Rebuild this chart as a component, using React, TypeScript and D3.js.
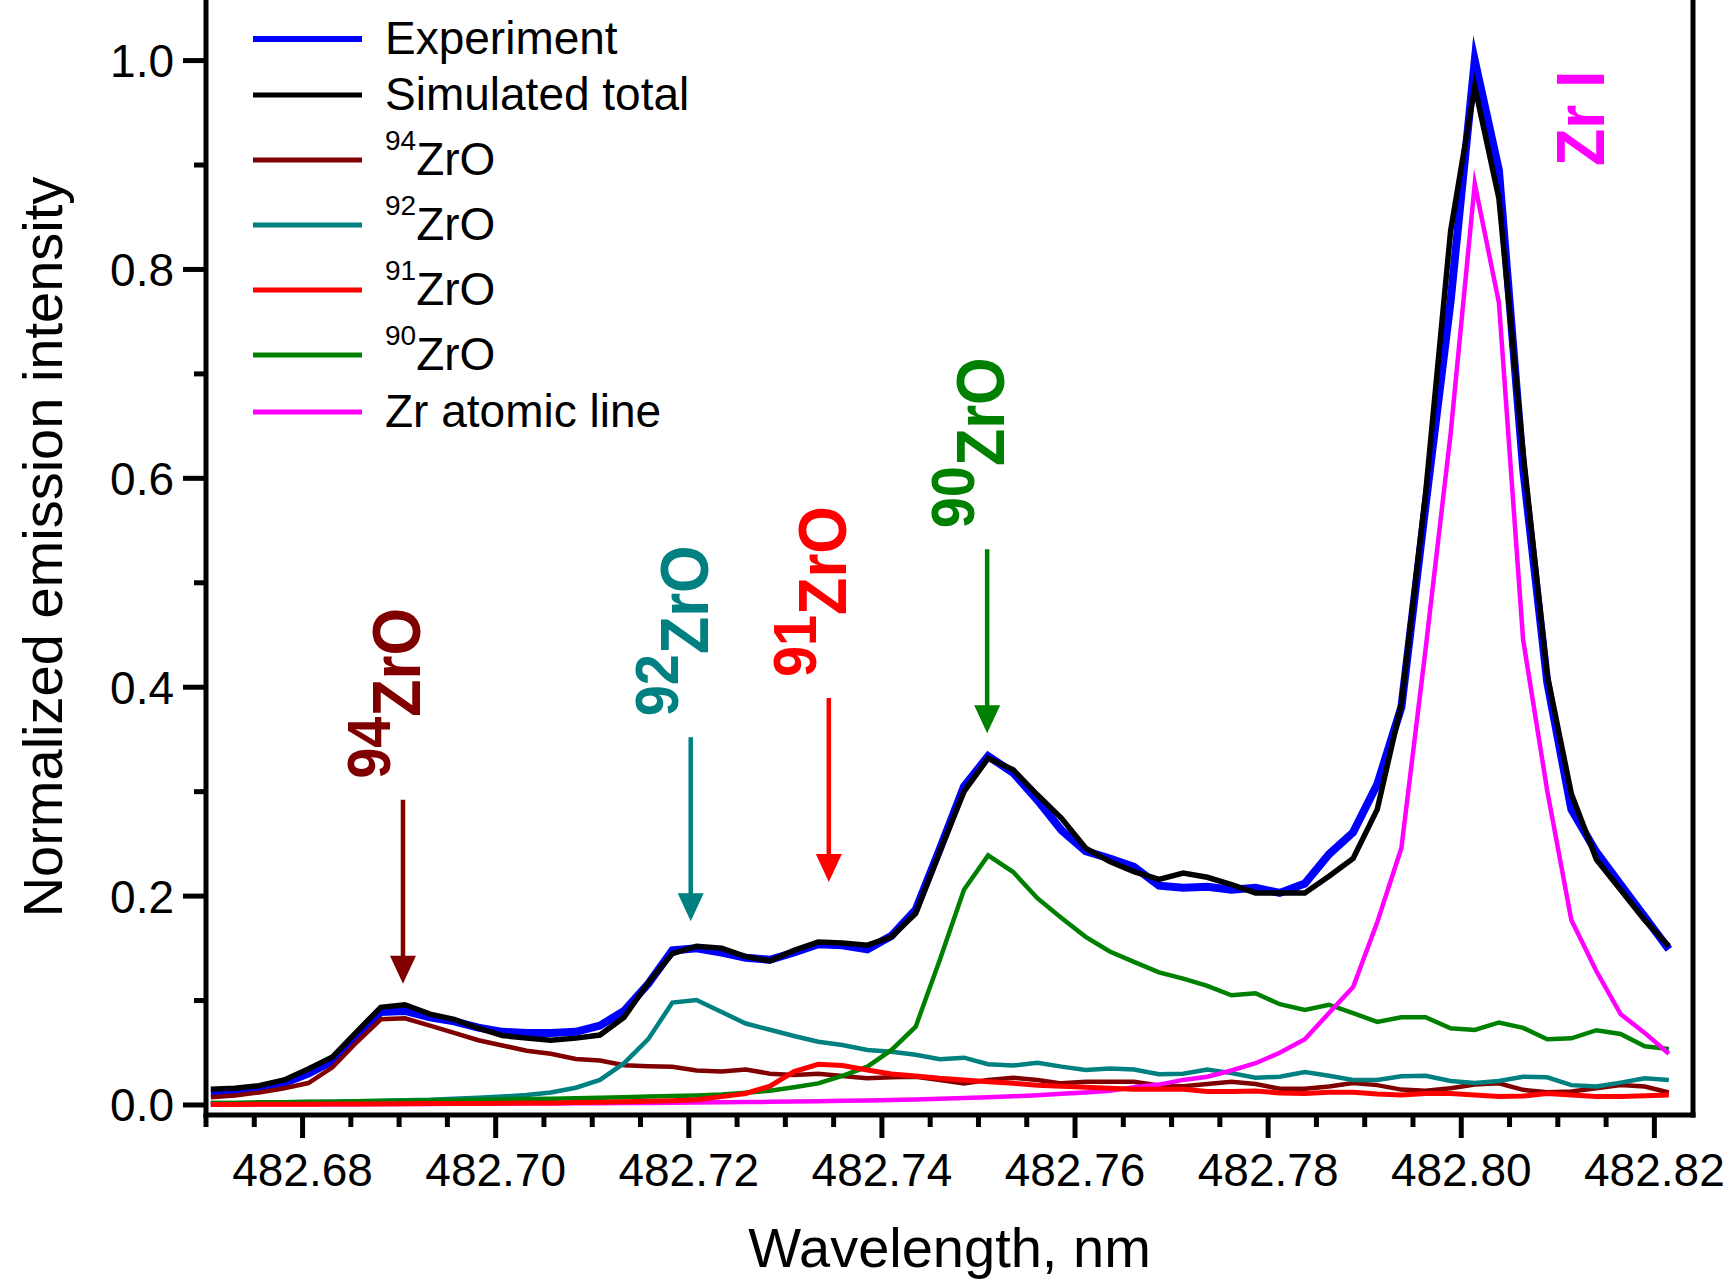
import React from "react";
import * as d3 from "d3";

// wavelength grid of the spectrum, nm
const wavelength = [
  482.6705, 482.673, 482.6755, 482.6781, 482.6806, 482.6831, 482.6856, 482.6881, 482.6906, 482.6932,
  482.6957, 482.6982, 482.7007, 482.7032, 482.7057, 482.7083, 482.7108, 482.7133, 482.7158, 482.7183,
  482.7208, 482.7234, 482.7259, 482.7284, 482.7309, 482.7334, 482.7359, 482.7385, 482.741, 482.7435,
  482.746, 482.7485, 482.751, 482.7536, 482.7561, 482.7586, 482.7611, 482.7636, 482.7661, 482.7687,
  482.7712, 482.7737, 482.7762, 482.7787, 482.7812, 482.7838, 482.7863, 482.7888, 482.7913, 482.7938,
  482.7963, 482.7989, 482.8014, 482.8039, 482.8064, 482.8089, 482.8114, 482.814, 482.8165, 482.819,
  482.8215,
];

const experiment = [
  0.011, 0.012, 0.015, 0.021, 0.03, 0.042, 0.066, 0.089, 0.09, 0.084,
  0.08, 0.074, 0.07, 0.069, 0.069, 0.07, 0.076, 0.09, 0.116, 0.148,
  0.15, 0.146, 0.141, 0.139, 0.146, 0.154, 0.153, 0.149, 0.162, 0.187,
  0.245, 0.305, 0.334, 0.318, 0.292, 0.263, 0.243, 0.236, 0.228, 0.21,
  0.208, 0.209, 0.206, 0.208, 0.203, 0.212, 0.24, 0.261, 0.307, 0.381,
  0.574, 0.77, 1.0, 0.895, 0.61, 0.405, 0.283, 0.242, 0.211, 0.18,
  0.149,
];

const simulatedTotal = [
  0.015, 0.016, 0.0185, 0.024, 0.0345, 0.046, 0.07, 0.0935, 0.096, 0.087,
  0.082, 0.0735, 0.0665, 0.064, 0.062, 0.064, 0.067, 0.084, 0.117, 0.145,
  0.152, 0.15, 0.142, 0.138, 0.148, 0.156, 0.155, 0.153, 0.161, 0.1835,
  0.243, 0.3, 0.332, 0.321, 0.297, 0.2745, 0.246, 0.233, 0.2234, 0.216,
  0.222, 0.218, 0.211, 0.203, 0.203, 0.203, 0.219, 0.236, 0.283, 0.384,
  0.585, 0.837, 0.975, 0.868, 0.625, 0.412, 0.298, 0.235, 0.206, 0.177,
  0.152,
];

const zro94 = [
  0.0073, 0.009, 0.012, 0.016, 0.021, 0.036, 0.06, 0.082, 0.083, 0.076,
  0.069, 0.062, 0.057, 0.052, 0.049, 0.044, 0.0425, 0.038, 0.037, 0.0365,
  0.033, 0.032, 0.034, 0.03, 0.0287, 0.03, 0.0278, 0.0255, 0.0265, 0.027,
  0.024, 0.0207, 0.024, 0.026, 0.024, 0.0207, 0.0223, 0.0223, 0.0223, 0.0186,
  0.018, 0.02, 0.0223, 0.02, 0.0155, 0.0155, 0.0176, 0.021, 0.019, 0.0147,
  0.0137, 0.016, 0.0196, 0.0207, 0.0145, 0.0123, 0.0128, 0.016, 0.0192, 0.0176,
  0.012,
];

const zro92 = [
  0.002, 0.002, 0.0022, 0.0025, 0.0028, 0.003, 0.0035, 0.004, 0.0045, 0.005,
  0.006, 0.007, 0.008, 0.0095, 0.012, 0.0165, 0.024, 0.04, 0.063, 0.098,
  0.1005, 0.089, 0.078, 0.072, 0.066, 0.0606, 0.0575, 0.0527, 0.051, 0.048,
  0.0437, 0.0453, 0.039, 0.0377, 0.0405, 0.0367, 0.0335, 0.035, 0.034, 0.0295,
  0.03, 0.034, 0.0305, 0.026, 0.027, 0.0315, 0.028, 0.024, 0.024, 0.0275,
  0.028, 0.023, 0.021, 0.023, 0.027, 0.0265, 0.019, 0.0176, 0.0214, 0.0255,
  0.024,
];

const zro91 = [
  0.0005, 0.0005, 0.0006, 0.0007, 0.0008, 0.0009, 0.001, 0.001, 0.0012, 0.0013,
  0.0014, 0.0015, 0.0017, 0.0019, 0.002, 0.0023, 0.0026, 0.003, 0.0035, 0.004,
  0.005, 0.008, 0.011, 0.018, 0.032, 0.039, 0.0377, 0.0335, 0.0297, 0.0278,
  0.0255, 0.024, 0.0223, 0.0207, 0.019, 0.018, 0.017, 0.016, 0.015, 0.015,
  0.015, 0.013, 0.013, 0.0134, 0.0115, 0.011, 0.0122, 0.0122, 0.0105, 0.0096,
  0.011, 0.011, 0.0096, 0.0082, 0.0086, 0.011, 0.0096, 0.008, 0.008, 0.0089,
  0.0096,
];

const zro90 = [
  0.002, 0.002, 0.0025, 0.0027, 0.003, 0.0032, 0.0035, 0.0038, 0.004, 0.0043,
  0.0046, 0.005, 0.0053, 0.0057, 0.006, 0.0065, 0.007, 0.0075, 0.008, 0.0085,
  0.009, 0.01, 0.0118, 0.0137, 0.017, 0.0207, 0.0278, 0.0367, 0.0527, 0.075,
  0.139, 0.206, 0.239, 0.223, 0.198, 0.179, 0.161, 0.147, 0.137, 0.127,
  0.121, 0.114, 0.105, 0.107, 0.0965, 0.091, 0.096, 0.088, 0.0795, 0.084,
  0.084, 0.0734, 0.0718, 0.079, 0.0738, 0.063, 0.0638, 0.0716, 0.068, 0.0562,
  0.0535,
];

const zrAtomic = [
  0.0005, 0.0005, 0.0006, 0.0006, 0.0007, 0.0007, 0.0008, 0.0009, 0.001, 0.001,
  0.0011, 0.0012, 0.0013, 0.0014, 0.0015, 0.0016, 0.0017, 0.0019, 0.002, 0.0022,
  0.0024, 0.0026, 0.0028, 0.003, 0.0033, 0.0036, 0.004, 0.0044, 0.0048, 0.0053,
  0.0059, 0.0066, 0.0074, 0.0083, 0.0094, 0.0107, 0.012, 0.0135, 0.017, 0.0195,
  0.024, 0.027, 0.033, 0.04, 0.05, 0.063, 0.088, 0.113, 0.175, 0.246,
  0.436, 0.643, 0.882, 0.768, 0.446, 0.301, 0.177, 0.128, 0.087, 0.069,
  0.049,
];

const xMajorTicks = [482.68, 482.7, 482.72, 482.74, 482.76, 482.78, 482.8, 482.82];
const yMajorTicks = [0, 0.2, 0.4, 0.6, 0.8, 1.0];

// isotope line positions and the intensity the arrow tip points at
const isotopeMarks = [
  { mass: "94", wl: 482.6904, tip: 0.116 },
  { mass: "92", wl: 482.7202, tip: 0.176 },
  { mass: "91", wl: 482.7345, tip: 0.2135 },
  { mass: "90", wl: 482.7509, tip: 0.356 },
];

const W = 1729;
const H = 1283;
const FONT = "'Liberation Sans', Arial, Helvetica, sans-serif";

const COLORS = {
  exp: "#0000ff",
  sim: "#000000",
  z94: "#800000",
  z92: "#008080",
  z91: "#ff0000",
  z90: "#008000",
  zr: "#ff00ff",
};

const App = () => {
  const x = d3.scaleLinear().domain([482.67, 482.824]).range([206, 1693]);
  const y = d3.scaleLinear().domain([-0.0096, 1.058]).range([1115, 0]);

  const mk = (vals: number[]) =>
    d3
      .line<number>()
      .x((_, i) => x(wavelength[i]))
      .y((d) => y(d))(vals) as string;

  // drawing order: experiment under the total, isotopes on top
  const series = [
    { key: "exp", vals: experiment, color: COLORS.exp, w: 8 },
    { key: "sim", vals: simulatedTotal, color: COLORS.sim, w: 5.5 },
    { key: "z94", vals: zro94, color: COLORS.z94, w: 4.5 },
    { key: "z92", vals: zro92, color: COLORS.z92, w: 4.5 },
    { key: "z90", vals: zro90, color: COLORS.z90, w: 4.5 },
    { key: "zr", vals: zrAtomic, color: COLORS.zr, w: 4.5 },
    { key: "z91", vals: zro91, color: COLORS.z91, w: 5 },
  ];

  const xMinor = d3.range(482.67, 482.8245, 0.005).filter(
    (t) => !xMajorTicks.some((m) => Math.abs(m - t) < 1e-6)
  );
  const yMinor = [0.1, 0.3, 0.5, 0.7, 0.9];

  const legend = [
    { color: COLORS.exp, w: 6, y: 39, sup: null, text: "Experiment" },
    { color: COLORS.sim, w: 5, y: 95, sup: null, text: "Simulated total" },
    { color: COLORS.z94, w: 5, y: 160, sup: "94", text: "ZrO" },
    { color: COLORS.z92, w: 5, y: 225, sup: "92", text: "ZrO" },
    { color: COLORS.z91, w: 5, y: 290, sup: "91", text: "ZrO" },
    { color: COLORS.z90, w: 5, y: 355, sup: "90", text: "ZrO" },
    { color: COLORS.zr, w: 5, y: 412, sup: null, text: "Zr atomic line" },
  ];
  const markColors: Record<string, string> = {
    "94": COLORS.z94,
    "92": COLORS.z92,
    "91": COLORS.z91,
    "90": COLORS.z90,
  };

  const x0 = x.range()[0];
  const x1 = x.range()[1];
  const yb = y.range()[0];

  return (
    <svg
      width={W}
      height={H}
      style={{ position: "absolute", left: 0, top: 0, background: "#fff" }}
      fontFamily={FONT}
    >
      <rect width={W} height={H} fill="#fff" />

      {/* curves */}
      {series.map((s) => (
        <path
          key={s.key}
          d={mk(s.vals)}
          fill="none"
          stroke={s.color}
          strokeWidth={s.w}
          strokeLinejoin="miter"
          strokeMiterlimit={10}
        />
      ))}

      {/* frame */}
      <g stroke="#000" strokeWidth={5} fill="none">
        <line x1={x0} x2={x0} y1={-5} y2={yb + 2.5} />
        <line x1={x1} x2={x1} y1={-5} y2={yb + 2.5} />
        <line x1={x0 - 2.5} x2={x1 + 2.5} y1={yb} y2={yb} />
      </g>

      {/* x ticks */}
      <g stroke="#000" strokeWidth={5}>
        {xMajorTicks.map((t) => (
          <line key={t} x1={x(t)} x2={x(t)} y1={yb} y2={yb + 23} />
        ))}
        {xMinor.map((t) => (
          <line key={t} x1={x(t)} x2={x(t)} y1={yb} y2={yb + 12} />
        ))}
      </g>
      {xMajorTicks.map((t) => (
        <text key={t} x={x(t)} y={1186} fontSize={46} textAnchor="middle">
          {t.toFixed(2)}
        </text>
      ))}

      {/* y ticks */}
      <g stroke="#000" strokeWidth={5}>
        {yMajorTicks.map((t) => (
          <line key={t} x1={x0 - 23} x2={x0} y1={y(t)} y2={y(t)} />
        ))}
        {yMinor.map((t) => (
          <line key={t} x1={x0 - 12} x2={x0} y1={y(t)} y2={y(t)} />
        ))}
      </g>
      {yMajorTicks.map((t) => (
        <text key={t} x={174} y={y(t) + 16.5} fontSize={46} textAnchor="end">
          {t.toFixed(1)}
        </text>
      ))}

      {/* axis titles */}
      <text x={(x0 + x1) / 2} y={1267} fontSize={56} textAnchor="middle">
        Wavelength, nm
      </text>
      <text transform="translate(62,547) rotate(-90)" fontSize={56} textAnchor="middle">
        Normalized emission intensity
      </text>

      {/* legend */}
      {legend.map((l) => (
        <g key={l.color}>
          <line x1={253} x2={362} y1={l.y} y2={l.y} stroke={l.color} strokeWidth={l.w} />
          <text x={385} y={l.y + 15} fontSize={46}>
            {l.sup ? (
              <>
                <tspan fontSize={28} dy={-25}>
                  {l.sup}
                </tspan>
                <tspan dy={25}>{l.text}</tspan>
              </>
            ) : (
              l.text
            )}
          </text>
        </g>
      ))}

      {/* isotope arrows and labels */}
      {isotopeMarks.map((m) => {
        const ax = x(m.wl);
        const tipY = y(m.tip);
        const topY = tipY - 184;
        const c = markColors[m.mass];
        return (
          <g key={m.mass}>
            <line x1={ax} x2={ax} y1={topY} y2={tipY - 26} stroke={c} strokeWidth={4.5} />
            <path d={`M${ax - 13},${tipY - 28} L${ax + 13},${tipY - 28} L${ax},${tipY} Z`} fill={c} />
            <text
              transform={`translate(${ax + 17},${topY - 21}) rotate(-90) scale(0.9,1)`}
              fontSize={68}
              fontWeight="bold"
              fill={c}
            >
              <tspan fontSize={62} dy={-30}>
                {m.mass}
              </tspan>
              <tspan dy={30}>ZrO</tspan>
            </text>
          </g>
        );
      })}

      {/* Zr I label */}
      <text
        transform={`translate(1604,166) rotate(-90) scale(0.9,1)`}
        fontSize={68}
        fontWeight="bold"
        fill={COLORS.zr}
      >
        Zr I
      </text>
    </svg>
  );
};

export default App;
